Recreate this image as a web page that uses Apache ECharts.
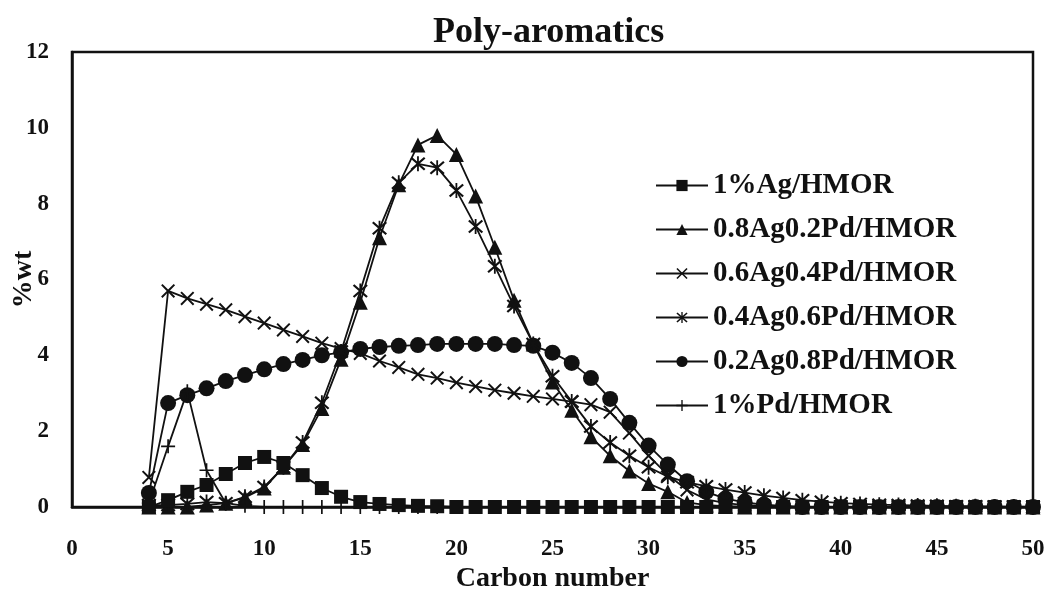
<!DOCTYPE html>
<html>
<head>
<meta charset="utf-8">
<script src="https://cdn.jsdelivr.net/npm/echarts@6/dist/echarts.min.js"></script>
<style>
html,body{margin:0;padding:0;background:#fff;}
#chart{width:1050px;height:594px;}
</style>
</head>
<body>
<div id="chart"></div>
<script>
// ---- data ----
var carbon = [4,5,6,7,8,9,10,11,12,13,14,15,16,17,18,19,20,21,22,23,24,25,26,27,28,29,30,31,32,33,34,35,36,37,38,39,40,41,42,43,44,45,46,47,48,49,50];
var seriesNames = ['1%Ag/HMOR','0.8Ag0.2Pd/HMOR','0.6Ag0.4Pd/HMOR','0.4Ag0.6Pd/HMOR','0.2Ag0.8Pd/HMOR','1%Pd/HMOR'];
var ag100 = [0,0.18,0.4,0.58,0.87,1.16,1.32,1.16,0.84,0.5,0.27,0.13,0.08,0.05,0.03,0.02,0,0,0,0,0,0,0,0,0,0,0,0,0,0,0,0,0,0,0,0,0,0,0,0,0,0,0,0,0,0,0];
var ag8pd2 = [0,0,0,0.05,0.1,0.25,0.5,1.05,1.65,2.6,3.9,5.4,7.1,8.5,9.55,9.8,9.3,8.2,6.85,5.45,4.3,3.3,2.55,1.85,1.35,0.95,0.62,0.4,0.12,0.05,0.02,0,0,0,0,0,0,0,0,0,0,0,0,0,0,0,0];
var ag6pd4 = [0.78,5.7,5.5,5.35,5.2,5.02,4.85,4.67,4.5,4.32,4.18,4.05,3.85,3.68,3.5,3.4,3.28,3.18,3.08,3.0,2.92,2.85,2.78,2.7,2.5,1.95,1.35,0.85,0.45,0.2,0.1,0.05,0.03,0,0,0,0,0,0,0,0,0,0,0,0,0,0];
var ag4pd6 = [0.05,0.05,0.08,0.13,0.1,0.27,0.53,1.05,1.7,2.75,4.1,5.7,7.35,8.55,9.05,8.95,8.35,7.4,6.35,5.3,4.3,3.45,2.78,2.12,1.7,1.35,1.05,0.8,0.65,0.55,0.46,0.38,0.3,0.24,0.18,0.14,0.1,0.08,0.06,0.05,0.04,0.03,0.02,0.02,0.01,0.01,0];
var ag2pd8 = [0.37,2.74,2.95,3.13,3.32,3.48,3.63,3.77,3.88,4.0,4.08,4.17,4.22,4.25,4.27,4.3,4.3,4.3,4.3,4.27,4.25,4.07,3.8,3.4,2.85,2.22,1.62,1.12,0.68,0.4,0.22,0.12,0.06,0.03,0,0,0,0,0,0,0,0,0,0,0,0,0];
var pd100 = [0.1,1.6,3.05,0.97,0.1,0.03,0,0,0,0,0,0,0,0,0,0,0,0,0,0,0,0,0,0,0,0,0,0,0,0,0,0,0,0,0,0,0,0,0,0,0,0,0,0,0,0,0];
var xTicks = [0,5,10,15,20,25,30,35,40,45,50];
var yTicks = [0,2,4,6,8,10,12];

// ---- symbols ----
var X_PATH = 'path://M0,1L1,0L5,4L9,0L10,1L6,5L10,9L9,10L5,6L1,10L0,9L4,5Z';
var PLUS_PATH = 'path://M4.4,0L5.6,0L5.6,4.4L10,4.4L10,5.6L5.6,5.6L5.6,10L4.4,10L4.4,5.6L0,5.6L0,4.4L4.4,4.4Z';
var STAR_PATH = 'path://M0,1.5L1,0.5L5,4L9,0.5L10,1.5L6,5L10,8.5L9,9.5L5,6L1,9.5L0,8.5L4,5Z M4.4,0L5.6,0L5.6,10L4.4,10Z';

var FONT = "'Liberation Serif','Times New Roman',serif";
var INK = '#111';

function pairs(vals){ return carbon.map(function(c,i){ return [c, vals[i]]; }); }

var defs = [
  {data: ag100, symbol:'rect', size:14, z:10},
  {data: ag8pd2, symbol:'triangle', size:15, z:4},
  {data: ag6pd4, symbol:X_PATH, size:14, z:3},
  {data: ag4pd6, symbol:STAR_PATH, size:15, z:5},
  {data: ag2pd8, symbol:'circle', size:16, z:2},
  {data: pd100, symbol:PLUS_PATH, size:14, z:6}
];

var series = defs.map(function(d, i){
  return {
    name: seriesNames[i],
    type: 'line',
    data: pairs(d.data),
    symbol: d.symbol,
    symbolSize: d.size,
    showAllSymbol: true,
    z: d.z,
    lineStyle: {color: INK, width: 1.8},
    itemStyle: {color: INK, borderColor: INK, borderWidth: 0},
    emphasis: {disabled: true},
    animation: false
  };
});

var chart = echarts.init(document.getElementById('chart'), null, {renderer:'canvas'});
chart.setOption({
  backgroundColor: '#fff',
  animation: false,
  title: {
    text: 'Poly-aromatics',
    left: 428,
    top: 10,
    textStyle: {fontFamily: FONT, fontWeight: 'bold', fontSize: 36, color: INK}
  },
  legend: {
    orient: 'vertical',
    left: 650,
    top: 165,
    itemWidth: 52,
    itemHeight: 14,
    itemGap: 13,
    data: seriesNames,
    textStyle: {fontFamily: FONT, fontWeight: 'bold', fontSize: 29, color: INK, lineHeight: 31}
  },
  grid: {
    left: 72, right: 17, top: 52, bottom: 87,
    containLabel: false,
    outerBoundsMode: 'none',
    show: true, borderColor: INK, borderWidth: 2.5, backgroundColor: 'transparent'
  },
  xAxis: {
    type: 'value',
    min: xTicks[0], max: xTicks[xTicks.length-1], interval: 5,
    name: 'Carbon number',
    nameLocation: 'middle',
    nameGap: 58,
    nameMoveOverlap: false,
    nameTextStyle: {fontFamily: FONT, fontWeight: 'bold', fontSize: 28, color: INK},
    axisLine: {show: true, onZero: false, lineStyle: {color: INK, width: 2.5}},
    axisTick: {show: false},
    splitLine: {show: false},
    axisLabel: {fontFamily: FONT, fontWeight: 'bold', fontSize: 23, color: INK, margin: 31}
  },
  yAxis: {
    type: 'value',
    min: yTicks[0], max: yTicks[yTicks.length-1], interval: 2,
    name: '%wt',
    nameLocation: 'middle',
    nameRotate: 90,
    nameGap: 34,
    nameMoveOverlap: false,
    nameTextStyle: {fontFamily: FONT, fontWeight: 'bold', fontSize: 28, color: INK},
    axisLine: {show: true, lineStyle: {color: INK, width: 2.5}},
    axisTick: {show: false},
    splitLine: {show: false},
    axisLabel: {fontFamily: FONT, fontWeight: 'bold', fontSize: 23, color: INK, margin: 23}
  },
  series: series
});
</script>
</body>
</html>
